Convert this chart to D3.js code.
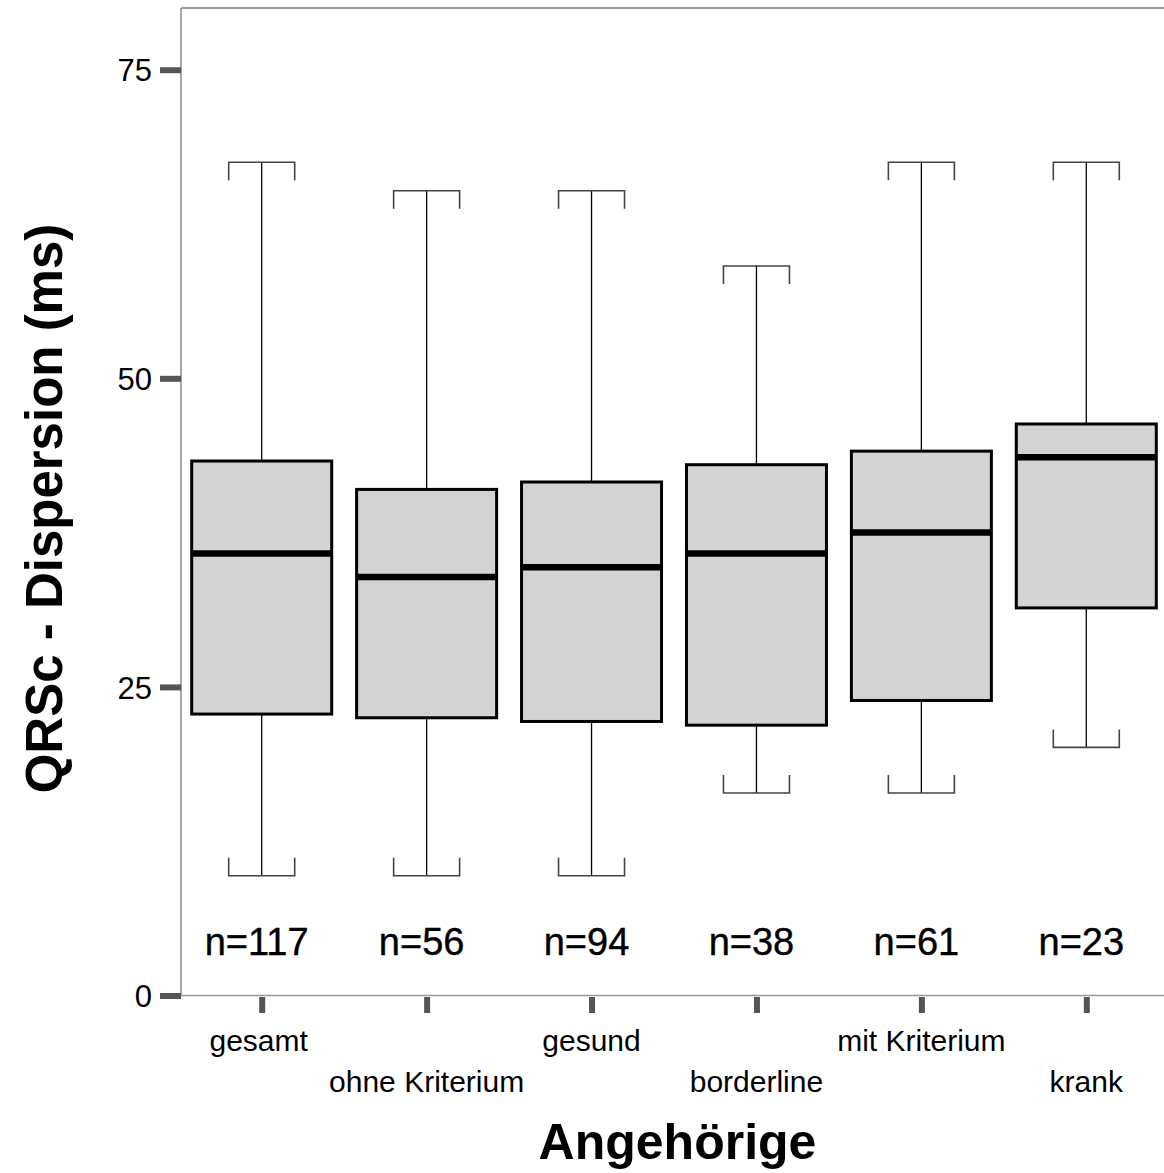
<!DOCTYPE html>
<html>
<head>
<meta charset="utf-8">
<script src="https://cdn.jsdelivr.net/npm/d3@7"></script>
<style>
  html, body { margin: 0; padding: 0; background: #fff; }
  text { font-family: "Liberation Sans", Arial, Helvetica, sans-serif; }
</style>
</head>
<body>
<svg id="chart" width="1164" height="1173"></svg>
<script>
const categories = ["gesamt", "ohne Kriterium", "gesund", "borderline", "mit Kriterium", "krank"];
const whiskerLow = [9.7, 9.7, 9.7, 16.4, 16.4, 20.1];
const q1 = [22.8, 22.5, 22.2, 21.9, 23.9, 31.4];
const median = [35.8, 33.9, 34.7, 35.8, 37.5, 43.6];
const q3 = [43.3, 41.0, 41.6, 43.0, 44.1, 46.3];
const whiskerHigh = [67.5, 65.2, 65.2, 59.1, 67.5, 67.5];
const counts = [117, 56, 94, 38, 61, 23];
const yTicks = [0, 25, 50, 75];
const xTitle = "Angehörige";
const yTitle = "QRSc - Dispersion (ms)";

(function () {
const svg = d3.select("#chart");
const pLeft = 181, pTop = 8, pRight = 1164, pBottom = 995.5;

const y = d3.scaleLinear().domain([0, 80]).range([pBottom, pTop]);
const x = d3.scalePoint().domain(categories).range([261.7, 1086.3]);

const boxW = 140, capW = 66, capH = 18;

// frame
svg.append("line").attr("x1", pLeft).attr("x2", pLeft).attr("y1", pTop).attr("y2", pBottom)
  .attr("stroke", "#888").attr("stroke-width", 1.5);
svg.append("line").attr("x1", pLeft).attr("x2", pRight).attr("y1", pTop).attr("y2", pTop)
  .attr("stroke", "#777").attr("stroke-width", 1.5);
svg.append("line").attr("x1", pLeft).attr("x2", pRight).attr("y1", pBottom).attr("y2", pBottom)
  .attr("stroke", "#999").attr("stroke-width", 1.5);

// y axis
const yAxis = d3.axisLeft(y).tickValues(yTicks).tickSize(21).tickPadding(8).tickFormat(d3.format("d"));
const gy = svg.append("g").attr("transform", `translate(${pLeft},0)`).call(yAxis);
gy.select(".domain").remove();
gy.selectAll(".tick line").attr("stroke", "#555").attr("stroke-width", 6);
gy.selectAll(".tick text").attr("font-size", 31).attr("fill", "#000")
  .attr("font-family", "'Liberation Sans', Arial, sans-serif").attr("dy", "0.36em");

// x axis
const xAxis = d3.axisBottom(x).tickSize(16).tickFormat(() => "");
const gx = svg.append("g").attr("transform", `translate(0,${pBottom + 1.5})`).call(xAxis);
gx.select(".domain").remove();
gx.selectAll(".tick line").attr("stroke", "#555").attr("stroke-width", 6);

svg.append("g").selectAll("text").data(categories).join("text")
  .attr("x", d => x(d))
  .attr("dx", (d, i) => i === 0 ? -3 : 0)
  .attr("y", (d, i) => i % 2 === 0 ? 1051 : 1092)
  .attr("text-anchor", "middle").attr("font-size", 30).attr("fill", "#000")
  .text(d => d);

// boxes
const data = categories.map((c, i) => ({
  c, lo: whiskerLow[i], q1: q1[i], med: median[i], q3: q3[i], hi: whiskerHigh[i], n: counts[i]
}));

const g = svg.append("g");
const bx = g.selectAll("g.box").data(data).join("g").attr("class", "box");

// whiskers
bx.append("line").attr("x1", d => x(d.c)).attr("x2", d => x(d.c))
  .attr("y1", d => y(d.hi)).attr("y2", d => y(d.q3)).attr("stroke", "#000").attr("stroke-width", 1.3);
bx.append("line").attr("x1", d => x(d.c)).attr("x2", d => x(d.c))
  .attr("y1", d => y(d.q1)).attr("y2", d => y(d.lo)).attr("stroke", "#000").attr("stroke-width", 1.3);

// caps
bx.append("path").attr("fill", "none").attr("stroke", "#444").attr("stroke-width", 1.6)
  .attr("d", d => {
    const cx = x(d.c), yy = y(d.hi);
    return `M${cx - capW / 2},${yy + capH}V${yy}H${cx + capW / 2}V${yy + capH}`;
  });
bx.append("path").attr("fill", "none").attr("stroke", "#444").attr("stroke-width", 1.6)
  .attr("d", d => {
    const cx = x(d.c), yy = y(d.lo);
    return `M${cx - capW / 2},${yy - capH}V${yy}H${cx + capW / 2}V${yy - capH}`;
  });

// box
bx.append("rect").attr("x", d => x(d.c) - boxW / 2).attr("width", boxW)
  .attr("y", d => y(d.q3)).attr("height", d => y(d.q1) - y(d.q3))
  .attr("fill", "#d3d3d3").attr("stroke", "#000").attr("stroke-width", 3);

// median
bx.append("line").attr("x1", d => x(d.c) - boxW / 2).attr("x2", d => x(d.c) + boxW / 2)
  .attr("y1", d => y(d.med)).attr("y2", d => y(d.med)).attr("stroke", "#000").attr("stroke-width", 6.5);

// counts
bx.append("text").attr("x", d => x(d.c) - 5).attr("y", 955)
  .attr("text-anchor", "middle").attr("font-size", 38).attr("fill", "#000")
  .attr("stroke", "#000").attr("stroke-width", 0.4)
  .text(d => "n=" + d.n);

// titles
svg.append("text").attr("x", 677.5).attr("y", 1159).attr("text-anchor", "middle")
  .attr("font-size", 50).attr("font-weight", "bold").attr("fill", "#000").text(xTitle);
svg.append("text").attr("transform", "translate(62,508.5) rotate(-90)").attr("text-anchor", "middle")
  .attr("font-size", 51).attr("font-weight", "bold").attr("fill", "#000").text(yTitle);
})();
</script>
</body>
</html>
